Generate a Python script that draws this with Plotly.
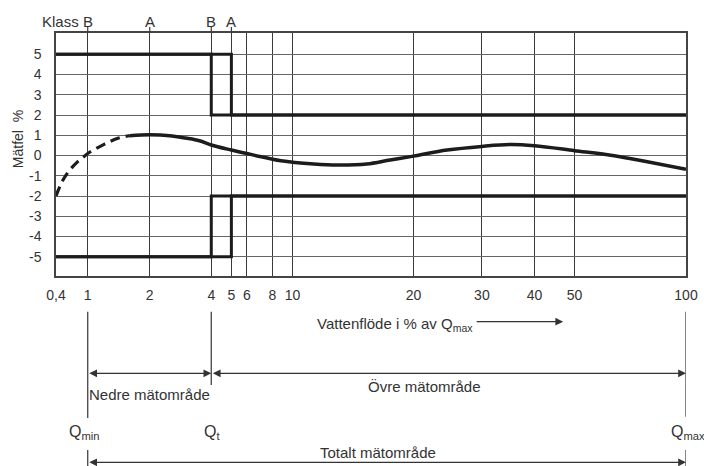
import numpy as np
import plotly.graph_objects as go

# ---------------- data ----------------
# Flow in % of Qmax (tick labels on the x axis)
tick_values = [0.4, 1, 2, 4, 5, 6, 8, 10, 20, 30, 40, 50, 100]
tick_labels = ["0,4", "1", "2", "4", "5", "6", "8", "10", "20", "30", "40", "50", "100"]
error_ticks = [-5, -4, -3, -2, -1, 0, 1, 2, 3, 4, 5]

# Typical error curve (dashed below Qmin region, solid above)
curve_dash_x = [0.4, 0.45, 0.5, 0.6, 0.75, 0.9, 1.0, 1.2, 1.4, 1.6]
curve_dash_y = [-2.0, -1.5, -1.15, -0.7, -0.3, -0.05, 0.1, 0.55, 0.85, 0.98]
curve_solid_x = [1.6, 2, 2.5, 3, 3.5, 4, 5, 6.5, 8.8, 11.3, 13, 15.3, 17.5, 20,
                 24.4, 30, 35, 40, 50, 64, 78, 100]
curve_solid_y = [0.98, 1.02, 0.98, 0.86, 0.73, 0.52, 0.27, 0.02, -0.26, -0.42, -0.47,
                 -0.42, -0.22, -0.03, 0.27, 0.45, 0.54, 0.48, 0.24, -0.01, -0.3, -0.68]

# Error limits per class
q_min = 1
q_t_class_b = 4
q_t_class_a = 5
q_max = 100
flow_start = 0.4
limit_lower_range = 5   # +-% below Qt
limit_upper_range = 2   # +-% above Qt

# ------------- x scale (piecewise logarithmic as printed) -------------
SCALE_KNOTS = [0.4, 1, 2, 4, 5, 6, 8, 10, 20, 30, 40, 50, 100]
SCALE_UNITS = [0, 31.7, 93.7, 155.2, 175.3, 190.7, 216.2, 236.4, 357.3, 425.7, 478.3, 518.3, 629.7]


def U(v):
    if v is None:
        return None
    return float(np.interp(np.log10(v), np.log10(SCALE_KNOTS), SCALE_UNITS))


def Ulist(vs):
    return [U(v) for v in vs]


FONT = "Liberation Sans, Arial, Helvetica, sans-serif"
TXT = "#333333"
INK = "#1c1c1c"

fig = go.Figure()


def limit_trace(qt):
    xs = [flow_start, qt, qt, q_max, None, flow_start, qt, qt, q_max]
    ys = [limit_lower_range, limit_lower_range, limit_upper_range, limit_upper_range, None,
          -limit_lower_range, -limit_lower_range, -limit_upper_range, -limit_upper_range]
    return go.Scatter(x=Ulist(xs), y=ys, mode="lines", connectgaps=False,
                      line=dict(color=INK, width=3), hoverinfo="skip", showlegend=False)


fig.add_trace(limit_trace(q_t_class_b))
fig.add_trace(limit_trace(q_t_class_a))

fig.add_trace(go.Scatter(x=Ulist(curve_dash_x), y=curve_dash_y, mode="lines",
                         line=dict(color=INK, width=3.2, dash="10px,6px", shape="spline"),
                         showlegend=False))
fig.add_trace(go.Scatter(x=Ulist(curve_solid_x), y=curve_solid_y, mode="lines",
                         line=dict(color=INK, width=3.5, shape="spline"),
                         showlegend=False))

fig.update_xaxes(range=[0, U(100)], tickvals=Ulist(tick_values), ticktext=tick_labels,
                 showgrid=True, gridcolor="#3a3a3a", gridwidth=1.2, automargin=False,
                 showline=True, linecolor="#444444", linewidth=1.5, mirror=True,
                 ticks="", ticklabelstandoff=5, zeroline=False,
                 tickfont=dict(family=FONT, size=14, color=TXT))
fig.update_yaxes(range=[-5.95, 6.05], tickvals=error_ticks,
                 ticktext=[str(t) for t in error_ticks], automargin=False,
                 showgrid=True, gridcolor="#666666", gridwidth=1.2,
                 showline=True, linecolor="#444444", linewidth=1.5, mirror=True,
                 ticks="", ticklabelstandoff=10, zeroline=False,
                 tickfont=dict(family=FONT, size=14, color=TXT))

shapes = []
# class boundaries extend above the frame
for v in [q_min, 2, q_t_class_b, q_t_class_a]:
    shapes.append(dict(type="line", xref="x", yref="paper", x0=U(v), x1=U(v), y0=1, y1=1.025,
                       line=dict(color="#3a3a3a", width=1.2)))
# range markers below the chart
for v, y0, y1 in [(q_min, -0.147, -0.584), (q_t_class_b, -0.147, -0.449), (q_max, -0.147, -0.579),
                  (q_min, -0.716, -0.79), (q_max, -0.716, -0.79)]:
    shapes.append(dict(type="line", xref="x", yref="paper", x0=U(v), x1=U(v), y0=y0, y1=y1,
                       line=dict(color="#444444", width=1.3)))

ann = []
tf = dict(family=FONT, size=15, color=TXT)


def label(text, xref, x, y, xanchor="center", yanchor="middle", font=tf, **kw):
    d = dict(text=text, xref=xref, yref="paper", x=x, y=y, xanchor=xanchor, yanchor=yanchor,
             showarrow=False, font=font)
    d.update(kw)
    ann.append(d)


label("Klass", "x", U(q_min), 1.049, xanchor="right", xshift=-7)
for v, lab in [(q_min, "B"), (2, "A"), (q_t_class_b, "B"), (q_t_class_a, "A")]:
    label(lab, "x", U(v), 1.049)

label("Mätfel  %", "paper", -0.06, 0.564, textangle=-90,
      font=dict(family=FONT, size=14, color=TXT))

label("Vattenflöde i % av Q<sub>max</sub>", "paper", 0.411, -0.2, xanchor="left")
ann.append(dict(text="", xref="paper", yref="paper", x=0.805, y=-0.188, ax=-88, ay=0,
                showarrow=True, arrowhead=2, arrowsize=1.2, arrowwidth=1.3, arrowcolor="#333333"))

# double-headed range arrows
for a, b, y in [(q_min, q_t_class_b, -0.4004), (q_t_class_b, q_max, -0.4004), (q_min, q_max, -0.7667)]:
    ann.append(dict(text="", xref="x", yref="paper", x=U(b), y=y, axref="x", ax=U(a),
                    ayref="pixel", ay=0, showarrow=True, arrowside="end+start",
                    arrowhead=2, arrowsize=1.2, arrowwidth=1.3, arrowcolor="#333333"))

label("Nedre mätområde", "x", (U(q_min) + U(q_t_class_b)) / 2, -0.4856)
label("Övre mätområde", "paper", (424 - 56) / 629.7, -0.4527)
label("Totalt mätområde", "paper", (378 - 56) / 629.7, -0.727)

qf = dict(family=FONT, size=16, color=TXT)
for v, lab, sh in [(q_min, "Q<sub>min</sub>", -21), (q_t_class_b, "Q<sub>t</sub>", -9.5),
                   (q_max, "Q<sub>max</sub>", -16.7)]:
    label(lab, "x", U(v), -0.642, xanchor="left", xshift=sh, font=qf)

fig.update_layout(width=704, height=466, margin=dict(l=56, r=18, t=33, b=190, pad=0),
                  paper_bgcolor="white", plot_bgcolor="white",
                  shapes=shapes, annotations=ann, showlegend=False)

fig.write_html("out.html", config={"displayModeBar": False},
               post_script="document.body.style.margin='0px';")
